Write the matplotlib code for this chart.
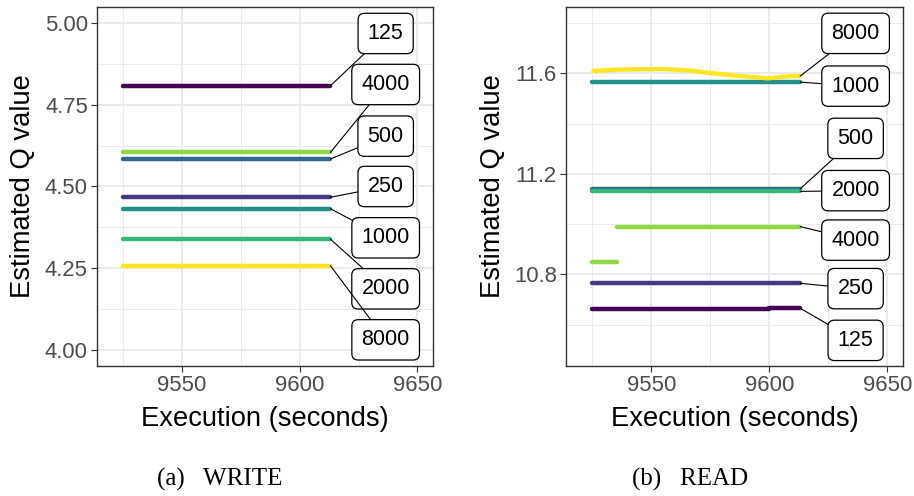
import numpy as np
import matplotlib
matplotlib.use("Agg")
import matplotlib.pyplot as plt
from matplotlib.ticker import FormatStrFormatter, MultipleLocator

plt.rcParams['font.family'] = ['Liberation Sans', 'DejaVu Sans']

# batch sizes and their viridis colours
levels = ['125', '250', '500', '1000', '2000', '4000', '8000']
colors = ['#440154', '#443A83', '#31688E', '#21908C', '#35B779', '#8FD744', '#FDE725']

# WRITE: every run is flat over the window
write_t = [9525, 9613]
write_q = [4.808, 4.467, 4.584, 4.432, 4.339, 4.604, 4.258]
write_label_y = [4.968, 4.500, 4.654, 4.343, 4.187, 4.812, 4.031]

# READ: time / value per batch size (nan splits a run)
read_t = {
    '125': [9525, 9599.6, 9599.6, 9613],
    '250': [9525, 9613],
    '500': [9525, 9613],
    '1000': [9525, 9613],
    '2000': [9525, 9613],
    '4000': [9525, 9535.4, np.nan, 9535.4, 9613],
    '8000': [9525.4, 9533.7, 9543, 9555, 9566.4, 9576.2, 9587.6, 9597.4,
             9599, 9604.6, 9608.9, 9613],
}
read_q = {
    '125': [10.662, 10.662, 10.665, 10.665],
    '250': [10.764, 10.764],
    '500': [11.140, 11.140],
    '1000': [11.565, 11.565],
    '2000': [11.130, 11.130],
    '4000': [10.847, 10.847, np.nan, 10.990, 10.990],
    '8000': [11.609, 11.614, 11.616, 11.617, 11.611, 11.600, 11.589, 11.582,
             11.580, 11.585, 11.589, 11.589],
}
read_label_y = [10.537, 10.743, 11.341, 11.549, 11.133, 10.936, 11.759]

label_x = 9636.5
xlim = (9513.8, 9656.6)


def style_axes(ax, ylim, ymajor, yfmt):
    ax.set_xlim(*xlim)
    ax.set_ylim(*ylim)
    ax.xaxis.set_major_locator(MultipleLocator(50))
    ax.xaxis.set_minor_locator(MultipleLocator(25))
    ax.yaxis.set_major_locator(MultipleLocator(ymajor))
    ax.yaxis.set_minor_locator(MultipleLocator(ymajor / 2))
    ax.yaxis.set_major_formatter(FormatStrFormatter(yfmt))
    ax.grid(which='major', color='#EBEBEB', lw=1.4)
    ax.grid(which='minor', color='#EBEBEB', lw=0.7)
    ax.set_axisbelow(True)
    ax.tick_params(which='major', length=4, width=0.8, color='#333333',
                   labelsize=15.9, labelcolor='#4D4D4D', pad=2.5)
    ax.tick_params(which='minor', length=0)
    for s in ax.spines.values():
        s.set_color('#333333')
        s.set_linewidth(1.0)
    ax.set_xlabel('Execution (seconds)', fontsize=19.7, labelpad=7)
    ax.set_ylabel('Estimated Q value', fontsize=19.7, labelpad=6)


def add_label(ax, text, xy, y):
    ax.annotate(text, xy=xy, xytext=(label_x, y), ha='center', va='center',
                fontsize=15.5, color='black',
                bbox=dict(boxstyle='round,pad=0.45,rounding_size=0.3',
                          fc='white', ec='black', lw=0.9),
                arrowprops=dict(arrowstyle='-', color='black', lw=0.8,
                                shrinkA=0, shrinkB=0))


fig = plt.figure(figsize=(9.14, 4.96), dpi=100)
ax1 = fig.add_axes([0.1061, 0.2621, 0.3676, 0.7238])
ax2 = fig.add_axes([0.6193, 0.2621, 0.3687, 0.7238])

# WRITE panel
for lev, c, q in zip(levels, colors, write_q):
    ax1.plot(write_t, [q, q], color=c, lw=3.2, solid_capstyle='round')
for lev, q, ly in zip(levels, write_q, write_label_y):
    add_label(ax1, lev, (write_t[-1], q), ly)
style_axes(ax1, (3.951, 5.049), 0.25, '%.2f')

# READ panel
for lev, c in zip(levels, colors):
    ax2.plot(read_t[lev], read_q[lev], color=c, lw=3.2,
             solid_capstyle='round', solid_joinstyle='round')
for lev, ly in zip(levels, read_label_y):
    t = read_t[lev]
    q = read_q[lev]
    add_label(ax2, lev, (t[-1], q[-1]), ly)
style_axes(ax2, (10.435, 11.864), 0.4, '%.1f')

fig.text(220 / 914, 1 - 486 / 496, '(a)   WRITE', ha='center', va='baseline',
         fontsize=18, family='Liberation Serif')
fig.text(690 / 914, 1 - 486 / 496, '(b)   READ', ha='center', va='baseline',
         fontsize=18, family='Liberation Serif')

fig.savefig('out.png', dpi=100)
